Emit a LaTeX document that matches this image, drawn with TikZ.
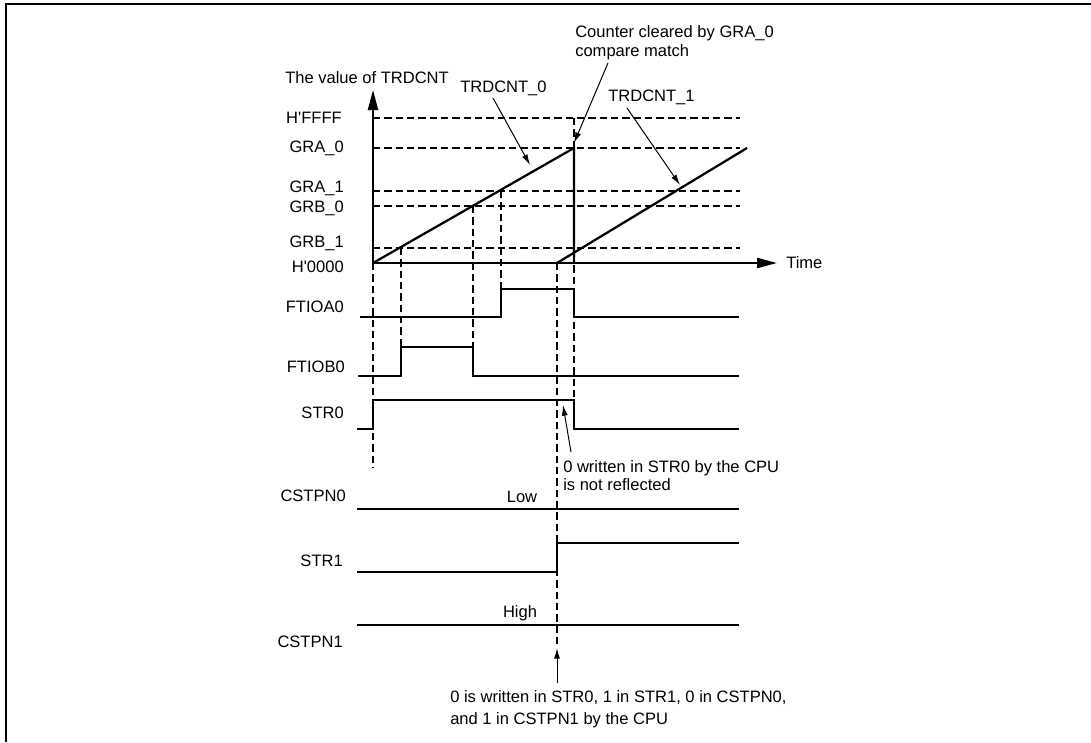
\documentclass[tikz,border=0pt]{standalone}
\usepackage{fontspec}
\setmainfont{Liberation Sans}
\usetikzlibrary{arrows.meta}
\begin{document}
\begin{tikzpicture}[x=0.75pt,y=-0.75pt,
  txt/.style={font=\fontsize{12.4}{14.25}\selectfont, inner sep=0pt},
  lbl/.style={txt, anchor=east},
  sig/.style={line width=1.7pt, line join=miter},
  dsh/.style={line width=0.9pt, dash pattern=on 5.5pt off 3pt},
  ann/.style={line width=0.75pt, -{Latex[length=8pt,width=4.5pt]}},
  axisarrow/.style={line width=1.7pt, -{Triangle[length=15pt,width=7.5pt]}},
  frame/.style={line width=1.5pt}]
\useasboundingbox (0,0) rectangle (1091,742);
% frame
\draw[frame] (1091,4) -- (6,4) -- (6,742);

% key coordinates
\coordinate (O) at (373,263);
\coordinate (Ytop) at (373,90);
\coordinate (Tend) at (777,263);

% dashed horizontal levels
\foreach \yy in {118,148,191,206,248}{
  \draw[dsh] (373,\yy) -- (740,\yy);
}
% dashed verticals
\draw[dsh] (373,263) -- (373,468);
\draw[dsh] (401,248) -- (401,347);
\draw[dsh] (473,206) -- (473,347);
\draw[dsh] (501,191) -- (501,289);
\draw[dsh] (574,118) -- (574,400);
\draw[dsh] (557,263) -- (557,648);

% axes
\draw[axisarrow] (O) -- (Ytop);
\draw[axisarrow] (O) -- (Tend);

% counter ramps
\coordinate (R0s) at (373,263);
\coordinate (R0e) at (574,148);
\coordinate (R0b) at (574,263);
\coordinate (R1s) at (557,263);
\coordinate (R1e) at (747,148);
\draw[sig] (R0s) -- (R0e) -- (R0b);
\draw[sig] (R1s) -- (R1e);

% axis labels
\node[txt, anchor=west] (yname) at (285,78) {The value of TRDCNT};
\node[txt, anchor=west] (tname) at (786,263) {Time};
\node[lbl] (lffff) at (342,118) {H\textquotesingle FFFF};
\node[lbl] (lgra0) at (344,148) {GRA\_0};
\node[lbl] (lgra1) at (344,188) {GRA\_1};
\node[lbl] (lgrb0) at (344,208) {GRB\_0};
\node[lbl] (lgrb1) at (344,243) {GRB\_1};
\node[lbl] (l0000) at (344,267) {H\textquotesingle 0000};

% annotations at top
\node[txt, anchor=west] (cnt0) at (460,88) {TRDCNT\_0};
\node[txt, anchor=west] (cnt1) at (608,97) {TRDCNT\_1};
\node[txt, anchor=west, align=left, font=\fontsize{12.4}{14.25}\selectfont] (clr) at (575,42.5) {Counter cleared by GRA\_0\\compare match};
\coordinate (a0s) at (493,98);   \coordinate (a0e) at (530,165);
\coordinate (a1s) at (627,108);  \coordinate (a1e) at (680,185);
\coordinate (acs) at (608,63);   \coordinate (ace) at (574,143);
\draw[ann] (a0s) -- (a0e);
\draw[ann] (a1s) -- (a1e);
\draw[ann] (acs) -- (ace);

% signal labels
\node[lbl] (nA) at (344,307) {FTIOA0};
\node[lbl] (nB) at (345,367) {FTIOB0};
\node[lbl] (nS0) at (344,413) {STR0};
\node[lbl] (nC0) at (346,496) {CSTPN0};
\node[lbl] (nS1) at (343,561) {STR1};
\node[lbl] (nC1) at (343,642) {CSTPN1};

% waveforms
\draw[sig] (360,317) -- (501,317) -- (501,289) -- (574,289) -- (574,317) -- (739,317);
\draw[sig] (358,376) -- (401,376) -- (401,347) -- (473,347) -- (473,376) -- (739,376);
\draw[sig] (357,429) -- (373,429) -- (373,400) -- (574,400) -- (574,429) -- (739,429);
\draw[sig] (357,509) -- (739,509);
\draw[sig] (357,572) -- (557,572) -- (557,543) -- (739,543);
\draw[sig] (357,625) -- (739,625);

\node[txt] (low) at (522,497) {Low};
\node[txt] (high) at (520,613) {High};

% STR0 note
\node[txt, anchor=west, align=left, font=\fontsize{12.4}{13.5}\selectfont] (note0) at (563,476) {0 written in STR0 by the CPU\\is not reflected};
\coordinate (n0s) at (571,452); \coordinate (n0e) at (563,405);
\draw[ann] (n0s) -- (n0e);

% bottom note
\node[txt, anchor=west, align=left, font=\fontsize{12.4}{16.5}\selectfont] (note1) at (450,709) {0 is written in STR0, 1 in STR1, 0 in CSTPN0,\\and 1 in CSTPN1 by the CPU};
\coordinate (n1s) at (557,683); \coordinate (n1e) at (557,648);
\draw[ann] (n1s) -- (n1e);
\end{tikzpicture}
\end{document}
